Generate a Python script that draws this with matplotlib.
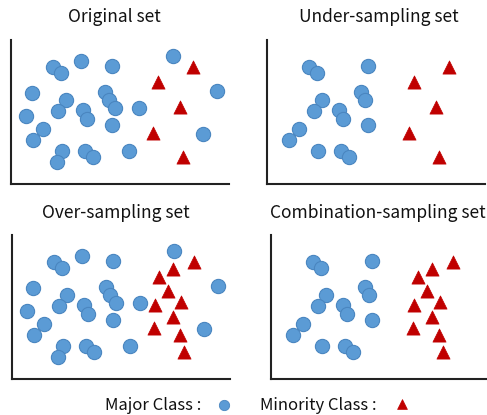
import matplotlib.pyplot as plt

plt.rcParams['font.family'] = ['Noto Sans CJK KR', 'DejaVu Sans']

# Base data (pixel-like units inside each panel frame)
major_x = [42, 50, 70, 101, 162, 21, 94, 98, 104, 55, 47, 72, 76, 15, 128, 206,
           32, 22, 101, 192, 51, 46, 74, 82, 118]
major_y = [117, 111, 123, 118, 128, 91, 92, 84, 76, 84, 73, 74, 65, 68, 76, 93,
           55, 44, 59, 50, 33, 22, 33, 27, 33]
under_keep = [0, 1, 3, 6, 7, 9, 10, 11, 12, 16, 17, 18, 20, 22, 23]

minor_x = [147, 182, 169, 142, 172]
minor_y = [102, 117, 77, 51, 27]
synth_x = [161, 156, 143, 161, 168]
synth_y = [110, 88, 74, 62, 44]

titles = ["Original set", "Under-sampling set", "Over-sampling set", "Combination-sampling set"]

W, H = 487, 415
BLUE = '#5B9BD5'
BLUE_EDGE = '#4A86C0'
RED = '#C00000'

fig = plt.figure(figsize=(W / 100, H / 100), dpi=100)

# panel frames in pixels: left, top, right, bottom
frames = [(11, 40, 229, 184), (267, 40, 485, 184), (12, 235, 230, 379), (271, 235, 487, 379)]
title_pos = [(114, 17), (379, 17), (116, 213), (378, 213)]

for i, (l, t, r, b) in enumerate(frames):
    ax = fig.add_axes([l / W, 1 - b / H, (r - l) / W, (b - t) / H])
    ax.set_xlim(0, r - l)
    ax.set_ylim(0, b - t)
    for s in ['top', 'right']:
        ax.spines[s].set_visible(False)
    for s in ['left', 'bottom']:
        ax.spines[s].set_linewidth(1.5)
        ax.spines[s].set_color('#222222')
    ax.set_xticks([])
    ax.set_yticks([])
    ax.patch.set_alpha(0)

    if i in (1, 3):
        mx = [major_x[k] for k in under_keep]
        my = [major_y[k] for k in under_keep]
    else:
        mx, my = major_x, major_y
    tx, ty = list(minor_x), list(minor_y)
    if i in (2, 3):
        tx += synth_x
        ty += synth_y

    ax.scatter(mx, my, s=105, c=BLUE, edgecolors=BLUE_EDGE, linewidths=0.8, clip_on=False, zorder=3)
    ax.scatter(tx, ty, s=90, marker='^', c=RED, edgecolors=RED, linewidths=0.5, clip_on=False, zorder=3)

    fig.text(title_pos[i][0] / W, 1 - title_pos[i][1] / H, titles[i],
             ha='center', va='center', fontsize=12.5, color='#111111')

# legend row
fig.text(105 / W, 1 - 405 / H, "Major Class :", ha='left', va='center', fontsize=12, color='#111111')
fig.text(260 / W, 1 - 405 / H, "Minority Class :", ha='left', va='center', fontsize=12, color='#111111')
lax = fig.add_axes([0, 0, 1, 1])
lax.set_xlim(0, W)
lax.set_ylim(H, 0)
lax.axis('off')
lax.scatter([224], [405], s=55, c=BLUE, edgecolors=BLUE_EDGE, linewidths=0.6)
lax.scatter([402], [404], s=50, marker='^', c=RED, edgecolors=RED, linewidths=0.5)

fig.savefig('out.png', dpi=100)
